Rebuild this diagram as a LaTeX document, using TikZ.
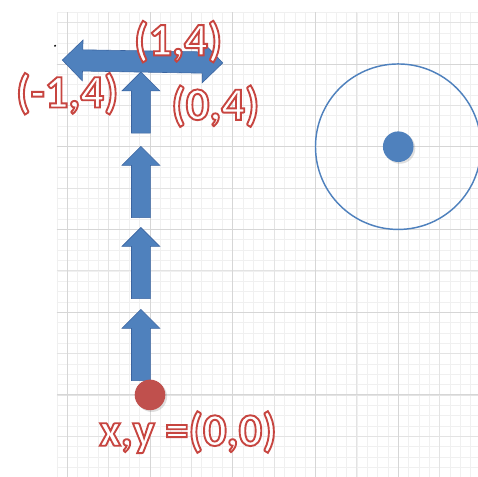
\documentclass[tikz,border=0pt]{standalone}
\usepackage{fontspec}
\setmainfont{Carlito}
\usetikzlibrary{shapes.arrows, shadows, positioning}

\definecolor{arrowblue}{HTML}{4F81BD}
\definecolor{arrowedge}{HTML}{3A64A0}
\definecolor{dotred}{HTML}{C0504D}
% white letters, red outline (fill + stroke render mode)
\newcommand{\lbl}[1]{\special{pdf:literal direct q 2 Tr 1.3 w 0.78 0.27 0.25 RG 1 1 1 rg}#1\special{pdf:literal direct Q}}

\begin{document}
\begin{tikzpicture}[x=2cm, y=2cm,
  uparrow/.style={single arrow, draw=arrowedge, fill=arrowblue, line width=0.4pt,
    rotate=90, anchor=tail, inner xsep=0pt, inner ysep=0.22cm,
    single arrow head extend=0.23cm, single arrow tip angle=90, minimum height=1.72cm},
  dot/.style={circle, inner sep=0pt, minimum size=0.74cm,
    drop shadow={opacity=0.25, shadow xshift=1.2pt, shadow yshift=-1.2pt}},
  lbltext/.style={inner sep=0pt, font=\fontsize{32}{36}\selectfont\bfseries}]
  \useasboundingbox (-1.813,-0.991) rectangle (3.964,4.773);
  \fill[white] (-1.813,-0.991) rectangle (3.964,4.773);

  % grid paper
  \draw[black!6, line width=0.4pt, step=0.125] (-1.125,-1) grid (4,4.625);
  \draw[black!11, line width=0.5pt, step=0.5] (-1.125,-1) grid (4,4.625);
  \draw[black!16, line width=0.6pt, step=1] (-1.125,-1) grid (4,4.625);

  % ring and centre
  \node[draw=arrowblue, circle, line width=1pt, inner sep=0pt, minimum size=4cm] (ring) at (3,3) {};
  \node[dot, fill=arrowblue] (centre) at (ring.center) {};

  % steps up
  \node[uparrow] (a1) at (-0.11,0.17) {};
  \node[uparrow] (a2) at (-0.11,1.16) {};
  \node[uparrow] (a3) at (-0.11,2.14) {};
  \node[uparrow, minimum height=1.48cm] (a4) at (-0.11,3.16) {};

  % left / right
  \node[double arrow, draw=arrowedge, fill=arrowblue, line width=0.4pt, rotate=-1,
    inner xsep=0pt, inner ysep=0.25cm, double arrow head extend=0.235cm,
    double arrow tip angle=90, minimum height=3.88cm] (turn) at (-0.09,4.03) {};

  % start point
  \node[dot, fill=dotred] (start) at (0,0) {};
  \fill (-1.148,4.22) circle (0.7pt);

  % labels
  \node[lbltext] (l14) at (0.34,4.27) {\lbl{(1,4)}};
  \node[lbltext] (lm14) at (-1.0,3.64) {\lbl{(-1,4)}};
  \node[lbltext] (l04) at (0.79,3.49) {\lbl{(0,4)}};
  \node[lbltext] (l00) at (0.46,-0.45) {\lbl{x,y =(0,0)}};
\end{tikzpicture}
\end{document}
